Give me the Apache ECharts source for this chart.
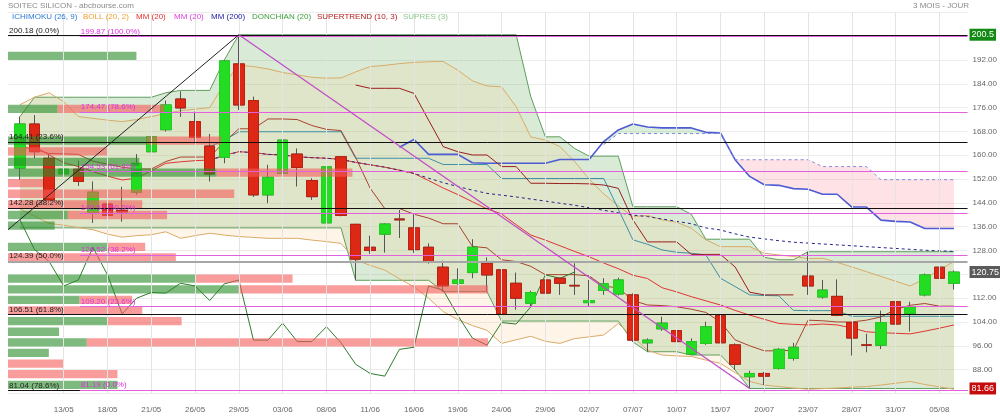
<!DOCTYPE html>
<html>
<head>
<meta charset="UTF-8">
<title>SOITEC SILICON - abcbourse.com</title>
<script src="https://cdn.jsdelivr.net/npm/echarts@6.0.0/dist/echarts.min.js"></script>
<style>html,body{margin:0;padding:0;background:#fff;}</style>
</head>
<body>
<div id="chart" style="width:1000px;height:416px;"></div>
<script>
// ---- data ----
var dates = ['08/05','11/05','12/05','13/05','14/05','15/05','18/05','19/05','20/05','21/05',
  '22/05','25/05','26/05','27/05','28/05','29/05','01/06','02/06','03/06','04/06',
  '05/06','08/06','09/06','10/06','11/06','12/06','15/06','16/06','17/06','18/06',
  '19/06','22/06','23/06','24/06','25/06','26/06','29/06','30/06','01/07','02/07',
  '03/07','06/07','07/07','08/07','09/07','10/07','13/07','14/07','15/07','16/07',
  '17/07','20/07','21/07','22/07','23/07','24/07','27/07','28/07','29/07','30/07',
  '31/07','03/08','04/08','05/08','06/08'];
var tickIdx = [3,6,9,12,15,18,21,24,27,30,33,36,39,42,45,48,51,54,57,60,63];

var opens = [155.7,170.5,159.0,153.8,155.3,140.5,143.6,141.5,147.6,161.2,
  168.6,178.9,171.3,163.1,159.3,190.7,178.4,146.7,153.9,160.4,
  151.5,137.3,159.5,136.8,129.1,133.5,138.6,135.6,129.1,122.4,
  117.0,120.6,123.7,121.5,117.0,110.3,118.1,118.7,116.3,110.5,
  114.6,113.4,113.1,97.0,101.7,101.1,93.2,96.8,106.1,96.3,
  85.6,86.7,88.4,91.8,119.4,112.4,112.6,103.8,96.3,96.2,
  110.8,106.9,113.1,122.4,117.0];
var closes = [170.5,161.2,145.0,155.3,151.2,147.6,139.8,141.0,157.3,166.2,
  176.9,175.9,166.0,153.7,191.7,176.9,146.7,152.6,165.1,155.9,
  146.1,156.1,139.8,125.1,128.0,136.9,138.3,128.3,124.3,116.1,
  118.1,129.1,119.8,106.7,112.0,113.9,113.7,117.0,116.1,111.2,
  116.8,118.1,97.9,97.9,103.6,97.4,97.4,102.4,97.0,89.8,
  86.7,85.8,94.8,95.5,116.1,114.7,106.2,98.6,96.2,103.8,
  103.3,109.1,119.8,118.7,120.75];
var lows = [151.7,159.0,143.9,149.7,149.7,137.3,137.7,137.7,146.7,158.2,
  168.0,172.9,164.0,151.2,157.3,175.2,146.0,143.9,152.8,149.5,
  145.0,137.0,139.5,118.0,126.9,127.3,132.2,127.2,123.6,114.2,
  116.5,118.7,114.2,104.3,108.1,109.2,110.9,113.1,113.1,109.2,
  113.1,112.9,97.3,94.0,101.0,95.0,92.9,96.3,96.5,87.9,
  81.66,82.8,88.0,91.0,113.1,111.8,105.9,92.7,93.8,94.9,
  103.0,100.8,112.6,116.5,114.9];
var highs = [173.0,173.5,160.4,159.9,158.2,151.2,149.7,149.4,160.4,168.6,
  178.4,181.5,174.7,167.2,192.0,200.5,179.7,156.8,166.2,162.3,
  152.3,157.8,159.7,137.0,133.0,137.2,141.6,140.2,130.4,124.6,
  122.0,131.8,125.7,122.4,120.6,114.5,124.9,118.9,123.7,118.1,
  118.7,118.9,113.6,98.5,105.8,101.9,98.5,104.1,107.0,96.8,
  87.6,87.2,95.2,97.0,127.6,118.1,118.3,104.0,100.0,107.8,
  113.7,110.8,120.3,125.4,121.3];

var dcUpper = [173,179.5,179.5,179.5,179.5,179.5,179.5,179.5,179.5,179.5,
  181.0,181.8,181.8,181.8,192.0,200.5,200.5,200.5,200.5,200.5,
  200.5,200.5,200.5,200.5,200.5,200.5,200.5,200.5,200.5,200.5,
  200.5,200.5,200.5,200.5,200.5,179.7,166.2,166.2,162.3,159.7,
  159.7,159.7,142.7,142.7,142.7,142.7,140.2,131.8,131.8,131.8,
  131.8,125.7,124.9,124.9,127.6,127.6,127.6,127.6,127.6,127.6,
  127.6,127.6,127.6,127.6,127.6];
var dcLower = [135.6,135.6,135.6,135.6,135.6,135.6,135.6,135.6,135.6,135.6,
  135.6,135.6,135.6,135.6,135.6,135.6,135.6,135.6,135.6,135.6,
  135.6,135.6,135.6,118.0,118.0,118.0,118.0,118.0,118.0,114.2,
  114.2,114.2,114.2,104.3,104.3,104.3,104.3,104.3,104.3,104.3,
  104.3,104.3,97.3,94.0,94.0,94.0,92.9,92.9,92.9,87.9,
  81.66,81.66,81.66,81.66,81.66,81.66,81.66,81.66,81.66,81.66,
  81.66,81.66,81.66,81.66,81.66];
var bbUpper = [177,179.5,181,178,173,172.4,171.8,171.3,172,173,
  174,175,175.5,176,184,190.3,189.8,189,187.8,187,
  186.2,185.9,186,188,189.8,190.2,190.8,191.2,191.4,191.5,
  188.6,185,183.3,183,176.3,166.2,165.1,162.9,158,152,
  147,143,139.4,139.8,138.3,137.5,135.5,131.6,129.3,129.3,
  129.3,127.1,126.5,126,125.3,125.4,124,122.5,120.9,119.3,
  117.7,116.1,118.5,121.5,124.3];
var bbLower = [142,139.5,137.1,136.5,135.7,135,133.5,132.5,133,133.3,
  134.3,132.1,133,133.8,133.2,132.7,132.4,132.1,132.1,132.1,
  131.5,131,130.4,124.8,123,121.4,118.5,115.8,112,107.5,
  104.8,102.8,101.2,96.8,98,99.2,97.5,96.8,98.4,99,
  99.6,103.5,99,94.5,92.9,92.6,92.4,91.2,90.1,87,
  84,82.8,82.3,81.8,81.4,81.6,81.8,82.1,82.3,82.8,
  83.4,84,83,82.2,81.4];
var mm20 = [165,163,160.1,157.5,156.2,154.5,153,151.7,152.3,154.8,
  157.3,157.8,158.2,158.4,160,161.2,160.9,160.3,160.1,159.5,
  159.2,159,158.6,157.6,156.8,156,155,153.9,151.5,149,
  146.8,144.4,142,140.3,136.7,133.2,131.5,129.6,127.7,125.9,
  123.8,121.9,119.7,118.6,115.5,114.1,112.5,111.1,109.7,107.9,
  106.3,104.9,103.5,103.2,103,103.3,103,102,100.7,100.4,
  100.2,100,100.9,101.9,103];
var mm200 = [null,null,null,null,null,null,null,null,null,null,
  null,null,null,158.4,159.8,161.2,160.9,160.3,160.1,159.5,
  159.2,159,158.6,157.6,156.8,156,155,153.9,152.3,150.8,
  149.5,148.3,147.2,146.6,146,145.3,144.6,143.9,143.2,142.4,
  141.5,140.7,139.9,139.4,138.6,137.8,137,135.6,134.9,133.6,
  132.5,131.9,131.3,130.8,130.5,130.2,129.9,129.6,129.3,129,
  128.7,128.4,128.1,127.9,127.7];
var tenkan = [163,162,160.6,160.5,160.3,158,157,156,155.4,155.4,
  157.9,159.4,159.4,159.4,164.5,168.9,168.9,172.2,172.2,172,
  170,168.7,168.3,159.3,148.9,142.1,142.1,140.2,138.9,137,
  137,129.4,128.9,124.9,124.3,122.7,119.9,119.9,119.9,119.5,
  116,115.5,111.2,109.7,109.5,109.1,108.3,107.2,104,98,
  96,94.3,94.3,94.5,104.6,104.4,104,104,104.6,105.7,
  108.2,109.6,110.2,109.3,109.3];
var kijun = [null,null,null,null,null,null,null,null,null,null,
  null,null,null,162.9,165,167.9,167.9,167.9,167.9,167.9,
  167.9,167.9,167.9,159.0,159.0,159.0,159.0,159.0,159.0,156.9,
  156.9,156.9,156.9,152.2,152.2,152.2,152.2,152.2,152.2,152.2,
  152.2,141.9,131.6,130.1,128.2,127.4,127.1,126.5,118.7,115.9,
  113.1,112.9,112.8,107.9,107.8,107.8,107.8,105.9,105.9,105.9,
  105.9,105.9,105.9,105.9,105.9];
var spanA = [null,null,null,null,null,null,null,null,null,null,
  null,null,null,null,null,null,null,null,null,null,
  null,null,null,null,null,null,162.7,165.3,160.3,160.3,
  160.3,157.5,157.3,157.3,157.3,157.3,157.3,158.6,158.6,158.6,
  164.6,168.5,170.5,169.5,169.2,169.2,169.2,167.7,167.5,158.5,
  152.9,150.1,149.9,148.8,148.6,146.9,146.9,142.6,142.6,138.2,
  137.8,137.6,135.4,135.4,135.4];
var spanB = [null,null,null,null,null,null,null,null,null,null,
  null,null,null,null,null,null,null,null,null,null,
  null,null,null,null,null,null,null,null,null,null,
  null,null,null,null,null,null,null,null,null,null,
  163.6,167.3,167.3,167.3,167.3,167.3,167.3,167.3,167.3,158.5,
  158.5,158.5,158.5,158.5,158.5,156.2,156.2,156.2,156.2,151.8,
  151.8,151.8,151.8,151.8,151.8];
var superTrend = [null,null,null,null,null,null,null,null,null,null,
  null,null,null,null,null,null,null,null,null,null,
  null,null,null,183.6,182.5,182.5,182.5,180.8,171.8,162.9,
  161.2,160.1,160.1,156.2,156.2,150.6,150.6,150.5,150.5,150.4,
  150,148.9,138.3,130.9,130.9,130.9,126.7,126.7,126.7,122.5,
  114,113.1,113.1,113.1,null,null,null,null,null,null,
  null,null,null,null,null];
var chikouShift = 26;

var trendBlack = [[-0.82, 135.0], [15, 200.5]];
var trendMagenta = [[15, 200.5], [50, 81.66]];

var fibDown = [200.18, 164.41, 142.28, 124.39, 106.51, 81.04];
var fibDownPct = ['0.0%', '23.6%', '38.2%', '50.0%', '61.8%', '78.6%'];
var fibUp = [199.87, 174.47, 154.53, 140.53, 126.52, 109.20, 81.19];
var fibUpPct = ['100.0%', '78.6%', '61.8%', '50.0%', '38.2%', '23.6%', '0.0%'];
var fibUpStart = 4.1;

// volume by price, bins from the bottom, lengths in days of the x axis
var volUp = [7.5,0,0,2.8,5.4,3.5,6.8,0,4.9,15.8,12.9,0,0,6.8,0,3.2,4.1,0,0,0,14.3,9.0,0,9.5,0,0,3.4,0,0,0,0,8.8,0];
var volDown = [0,7.5,3.8,0,27.5,0,5.1,9.2,3.6,17.1,6.6,0,11.5,2.6,0,0,6.8,9.2,15.5,2.4,9.3,0,6.8,5.1,0,0,7.3,0,0,0,0,0,0];
var binBase = 81.5, binStep = 3.565, binHeight = 2.79;

var highest = 200.5, lowest = 81.66, lastClose = 120.75;

// ---- chart ----
var X_MIN = -0.82, X_MAX = 64.93;
var FONT = 'Liberation Sans, Arial, sans-serif';
var FS = 8;
var chart = echarts.init(document.getElementById('chart'), null, {renderer: 'canvas'});

function pairs(arr) {
    var out = [];
    (arr || []).forEach(function (v, i) { if (v != null) out.push([i, v]); });
    return out;
}

function lineSeries(data, color, width, type, z) {
    return {
        type: 'line', data: data, symbol: 'none', showSymbol: false, silent: true,
        lineStyle: {color: color, width: width, type: type || 'solid'},
        z: z || 2, animation: false
    };
}

// filled band between two lines, drawn with the axis scales
function bandSeries(upper, lower, fill) {
    return {
        type: 'custom', data: [[0, 0]], silent: true, z: 1, animation: false,
        renderItem: function (params, api) {
            var pts = [], i;
            for (i = 0; i < upper.length; i++) {
                if (upper[i] != null && lower[i] != null) pts.push(api.coord([i, upper[i]]));
            }
            for (i = lower.length - 1; i >= 0; i--) {
                if (upper[i] != null && lower[i] != null) pts.push(api.coord([i, lower[i]]));
            }
            return {type: 'polygon', shape: {points: pts}, style: {fill: fill}};
        }
    };
}

// ichimoku cloud: green where A is above B, pink where B is above A
function cloudSeries(a, b) {
    return {
        type: 'custom', data: [[0, 0]], silent: true, z: 1, animation: false,
        renderItem: function (params, api) {
            var runs = [], cur = null;
            for (var i = 0; i < a.length; i++) {
                if (a[i] == null || b[i] == null) { cur = null; continue; }
                var up = a[i] >= b[i];
                if (!cur || cur.up !== up) {
                    cur = {up: up, from: cur ? i - 1 : i, to: i};
                    runs.push(cur);
                } else {
                    cur.to = i;
                }
            }
            var children = runs.map(function (r) {
                var pts = [], j;
                for (j = r.from; j <= r.to; j++) pts.push(api.coord([j, a[j]]));
                for (j = r.to; j >= r.from; j--) pts.push(api.coord([j, b[j]]));
                return {type: 'polygon', shape: {points: pts},
                    style: {fill: r.up ? 'rgba(110,190,110,0.25)' : 'rgba(255,150,160,0.28)'}};
            });
            return {type: 'group', children: children};
        }
    };
}

// wicks come from the full candles, bodies are drawn again on top without wicks
var candleData = opens.map(function (o, i) { return [i, o, closes[i], lows[i], highs[i]]; });
var bodyData = opens.map(function (o, i) {
    return [i, o, closes[i], Math.min(o, closes[i]), Math.max(o, closes[i])];
});
var chikou = pairs(closes.slice(chikouShift));
var volData = volUp.map(function (g, k) { return [k, g, volDown[k]]; });

var fibLines = [];
fibDown.forEach(function (v, j) {
    var grey = (j === 3);
    fibLines.push([
        {coord: [X_MIN, v], lineStyle: {color: grey ? '#a6a6a6' : '#111', width: grey ? 2 : 1, type: 'solid'},
         label: {formatter: v.toFixed(2) + ' (' + fibDownPct[j] + ')', color: '#222'}},
        {coord: [X_MAX, v]}
    ]);
});
fibUp.forEach(function (v, j) {
    fibLines.push([
        {coord: [fibUpStart, v], lineStyle: {color: '#e060e0', width: 1, type: 'solid'},
         label: {formatter: v.toFixed(2) + ' (' + fibUpPct[j] + ')', color: '#e030e0'}},
        {coord: [X_MAX, v]}
    ]);
});

var legendItems = [
    ['ICHIMOKU (26, 9)', '#2b7bd6', 12], ['BOLL (20, 2)', '#f0a030', 83],
    ['MM (20)', '#e8302c', 136], ['MM (20)', '#e040e0', 174], ['MM (200)', '#1c1ca0', 211],
    ['DONCHIAN (20)', '#3c9c3c', 252], ['SUPERTREND (10, 3)', '#b41c1c', 317], ['SUPRES (3)', '#8cc88c', 403]
];
var graphics = [
    {type: 'text', left: 8, top: 2, style: {text: 'SOITEC SILICON - abcbourse.com', fill: '#8a8a8a', font: FS + 'px ' + FONT}},
    {type: 'text', right: 31, top: 2, style: {text: '3 MOIS - JOUR', fill: '#8a8a8a', font: FS + 'px ' + FONT}}
];
legendItems.forEach(function (it) {
    graphics.push({type: 'text', left: it[2], top: 13, z: 100, style: {text: it[0], fill: it[1], font: FS + 'px ' + FONT}});
});

// price boxes on the right edge
var boxes = [[highest, String(highest), '#138a13'], [lastClose, lastClose.toFixed(2), '#5a5a5a'], [lowest, lowest.toFixed(2), '#c40c0c']];
var boxSeries = {
    type: 'line', data: [], symbol: 'none', silent: true, z: 7,
    markLine: {
        silent: true, symbol: ['none', 'none'], animation: false,
        lineStyle: {color: 'rgba(0,0,0,0)', width: 0},
        data: boxes.map(function (b) {
            return {yAxis: b[0], label: {show: true, position: 'end', formatter: b[1], color: '#fff',
                backgroundColor: b[2], padding: [2, 2, 1, 2], fontSize: 9, fontFamily: FONT, distance: 2}};
        })
    }
};

var dcLowerLine = lineSeries(pairs(dcLower), '#5e9e5e', 1, 'solid', 1);
dcLowerLine.markLine = {
    silent: true, symbol: ['none', 'none'], animation: false, label: {show: false},
    lineStyle: {color: '#e4e4e4', type: 'solid', width: 1},
    data: tickIdx.map(function (i) { return {xAxis: i}; })
};

var magentaTrend = lineSeries(trendMagenta, '#c04cc8', 1.3, 'solid', 6);
magentaTrend.markLine = {
    silent: true, symbol: ['none', 'none'], animation: false,
    lineStyle: {type: 'solid'},
    label: {show: true, position: 'insideStartTop', fontSize: FS, fontFamily: FONT, distance: 1},
    data: fibLines
};
var blackTrend = lineSeries(trendBlack, '#222', 1, 'solid', 6);

var option = {
    animation: false,
    backgroundColor: '#fff',
    textStyle: {fontFamily: FONT},
    grid: {left: 8, right: 32, top: 12.4, bottom: 22.6, containLabel: false},
    xAxis: {
        type: 'value', min: X_MIN, max: X_MAX,
        axisLine: {show: false}, axisTick: {show: false}, splitLine: {show: false},
        axisLabel: {customValues: tickIdx, color: '#666', fontSize: FS, margin: 12,
            formatter: function (v) { return dates[Math.round(v)]; }}
    },
    yAxis: {
        type: 'value', position: 'right', min: 80, max: 208, interval: 8,
        axisLine: {show: false}, axisTick: {show: false},
        splitLine: {lineStyle: {color: '#ececec'}},
        axisLabel: {color: '#666', fontSize: FS, margin: 5,
            formatter: function (v) { return (v >= 200 || v <= 80) ? '' : v.toFixed(2); }}
    },
    graphic: graphics,
    series: [
        bandSeries(dcUpper, dcLower, 'rgba(96,170,86,0.24)'),
        bandSeries(bbUpper, bbLower, 'rgba(250,205,140,0.2)'),
        cloudSeries(spanA, spanB),
        lineSeries(pairs(dcUpper), '#5e9e5e', 1, 'solid', 1),
        dcLowerLine,
        lineSeries(pairs(bbUpper), '#d9ab68', 1),
        lineSeries(pairs(bbLower), '#d9ab68', 1),
        lineSeries(pairs(spanA), '#4d5bd4', 1.6),
        lineSeries(pairs(spanB), '#8088dd', 1, [3, 3]),
        lineSeries(pairs(kijun), '#3f8fa6', 1),
        lineSeries(pairs(tenkan), '#a9432f', 1),
        lineSeries(pairs(mm20), '#e03434', 1),
        lineSeries(pairs(mm200), '#26268a', 1, [3, 3]),
        lineSeries(pairs(superTrend), '#9b1e1e', 1),
        lineSeries(chikou, '#2c7c2c', 1),
        {
            type: 'candlestick', data: candleData, z: 3, barWidth: 11,
            dimensions: ['x', 'open', 'close', 'lowest', 'highest'],
            encode: {x: 'x', y: ['open', 'close', 'lowest', 'highest']},
            itemStyle: {color: '#22dd22', color0: '#dc2814', borderColor: '#555', borderColor0: '#555', borderWidth: 1}
        },
        {
            type: 'candlestick', data: bodyData, z: 3, barWidth: 11,
            dimensions: ['x', 'open', 'close', 'lowest', 'highest'],
            encode: {x: 'x', y: ['open', 'close', 'lowest', 'highest']},
            itemStyle: {color: '#22dd22', color0: '#dc2814', borderColor: '#20d020', borderColor0: '#b82010', borderWidth: 1}
        },
        {
            type: 'custom', data: volData, z: 4, silent: true, clip: false,
            renderItem: function (params, api) {
                var k = api.value(0), g = api.value(1), r = api.value(2);
                var lo = binBase + k * binStep, hi = lo + binHeight;
                var p0 = api.coord([X_MIN, hi]);
                var p1 = api.coord([X_MIN + g, lo]);
                var p2 = api.coord([X_MIN + g + r, lo]);
                var kids = [];
                if (g > 0) kids.push({type: 'rect', shape: {x: p0[0], y: p0[1], width: p1[0] - p0[0], height: p1[1] - p0[1]},
                    style: {fill: 'rgba(40,140,40,0.6)'}});
                if (r > 0) kids.push({type: 'rect', shape: {x: p1[0], y: p0[1], width: p2[0] - p1[0], height: p1[1] - p0[1]},
                    style: {fill: 'rgba(245,90,90,0.6)'}});
                return {type: 'group', children: kids};
            }
        },
        blackTrend,
        magentaTrend,
        boxSeries
    ]
};
chart.setOption(option);
</script>
</body>
</html>
